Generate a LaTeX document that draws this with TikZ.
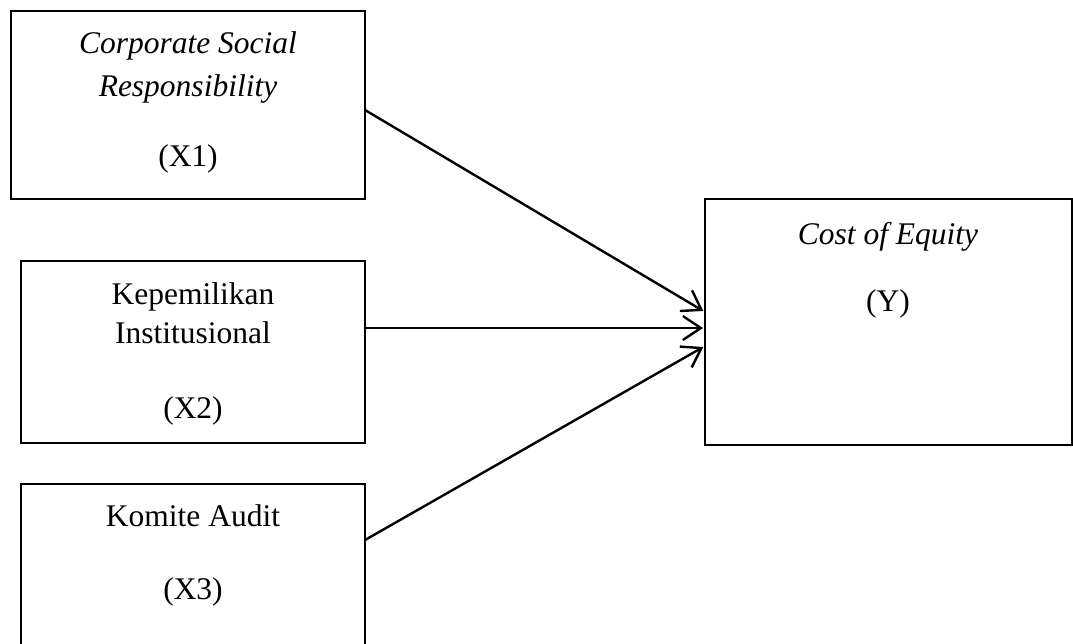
\documentclass[tikz,border=0pt]{standalone}
\usepackage{fontspec}
\setmainfont{Liberation Serif}
\usetikzlibrary{arrows.meta}
\begin{document}
\begin{tikzpicture}[x=1pt,y=-1pt,
  box/.style={draw=black,line width=1.3pt,minimum width=#1,inner sep=0pt,outer sep=0pt},
  lbl/.style={anchor=base,inner sep=0pt,font=\fontsize{31.5}{38}\selectfont},
  conn/.style={draw=black,line width=2.4pt,-{Straight Barb[length=18pt,width=24pt]},shorten >=2pt}]
\useasboundingbox (0,0) rectangle (1073,643);
\clip (0,0) rectangle (1073,643);
\fill[white] (0,0) rectangle (1073,643);
\node[box=354pt,minimum height=188pt] (x1) at (188,105) {};
\node[box=344pt,minimum height=182pt] (x2) at (193,352) {};
\node[box=344pt,minimum height=182pt] (x3) at (193,575) {};
\node[box=367pt,minimum height=246pt] (y) at (888.5,322) {};
\node[lbl] (t11) at (188,53) {\itshape Corporate Social};
\node[lbl] (t12) at (188,96) {\itshape Responsibility};
\node[lbl] (t13) at (188,166) {(X1)};
\node[lbl] (t21) at (193,304) {Kepemilikan};
\node[lbl] (t22) at (193,343) {Institusional};
\node[lbl] (t23) at (193,418) {(X2)};
\node[lbl] (t31) at (193,526) {Komite Audit};
\node[lbl] (t32) at (193,599) {(X3)};
\node[lbl] (ty1) at (888,244) {\itshape Cost of Equity};
\node[lbl] (ty2) at (888,311) {(Y)};
\draw[conn] ([yshift=-5pt]x1.east) -- ([yshift=10pt]y.west);
\draw[conn] ([yshift=24pt]x2.east) -- ([yshift=-6pt]y.west);
\draw[conn] ([yshift=35pt]x3.east) -- ([yshift=-24pt]y.west);
\end{tikzpicture}
\end{document}
